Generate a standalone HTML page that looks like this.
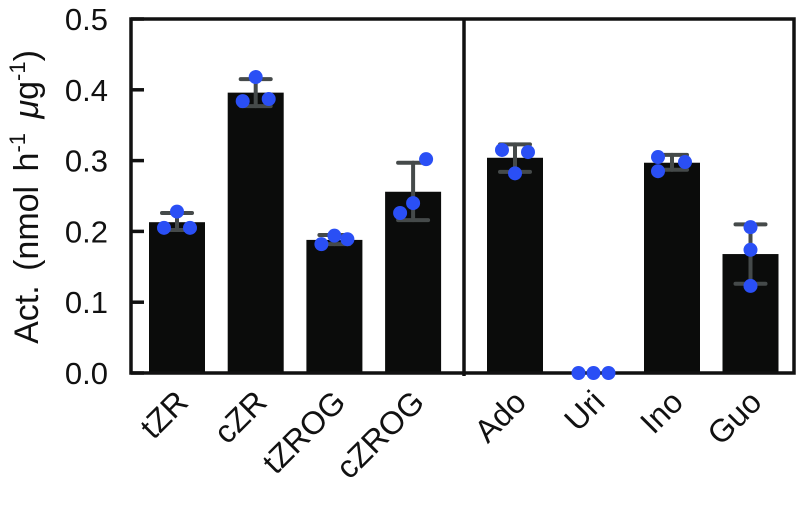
<!DOCTYPE html>
<html><head><meta charset="utf-8"><style>
html,body{margin:0;padding:0;background:#fff;}
svg{display:block;font-family:"Liberation Sans",Arial,sans-serif;}
</style></head><body>
<svg id="chart" width="798" height="510" viewBox="0 0 798 510"></svg>
<script>
const categories = ["tZR","cZR","tZROG","cZROG","Ado","Uri","Ino","Guo"];
const means = [0.213,0.396,0.188,0.256,0.304,0,0.297,0.168];
const errLow = [0.202,0.377,0.182,0.216,0.284,0,0.287,0.126];
const errHigh = [0.226,0.415,0.195,0.297,0.323,0,0.308,0.210];
const rep1 = [0.205,0.384,0.182,0.226,0.315,0,0.305,0.206];
const rep2 = [0.228,0.418,0.194,0.302,0.282,0,0.285,0.174];
const rep3 = [0.205,0.387,0.189,0.240,0.312,0,0.298,0.123];
const yTicks = [0,0.1,0.2,0.3,0.4,0.5];
const yTickLabels = ["0.0","0.1","0.2","0.3","0.4","0.5"];
// jitter offsets (layout only)
const jit = [[-13,0,13],[-13,0,13],[-13,0,13],[-13,13,0],[-13,0,13],[-15,0,15],[-14,-14,13],[0,0,0]];

const svg = document.getElementById('chart');
const NS = 'http://www.w3.org/2000/svg';
const L=131, R=794, T=19, B=373, DIV=464;
const y = v => B - (v/0.5)*(B-T);
const x = i => i<4 ? 177 + 78.7*i : 515 + 78.5*(i-4);
const BW = 56;
function mk(tag, attrs, parent){ const e=document.createElementNS(NS,tag); for(const k in attrs) e.setAttribute(k,attrs[k]); (parent||svg).appendChild(e); return e; }

categories.forEach((c,i)=>{
  const h = B - y(means[i]);
  const r = mk('rect',{x:x(i)-BW/2,y:y(means[i]),width:BW,height:h,fill:'#0b0c0b'});
  
  
});
categories.forEach((c,i)=>{
  if(errHigh[i]===errLow[i]) return;
  const g = mk('g',{stroke:'#454a4a','stroke-width':4,'stroke-linecap':'round'});
  
  
  mk('line',{x1:x(i),x2:x(i),y1:y(errLow[i]),y2:y(errHigh[i])},g);
  mk('line',{x1:x(i)-15,x2:x(i)+15,y1:y(errLow[i]),y2:y(errLow[i])},g);
  mk('line',{x1:x(i)-15,x2:x(i)+15,y1:y(errHigh[i]),y2:y(errHigh[i])},g);
});
const fr = mk('rect',{x:L,y:T,width:R-L,height:B-T,fill:'none',stroke:'#111','stroke-width':3.5});


const dv = mk('line',{x1:DIV,x2:DIV,y1:T,y2:B+3,stroke:'#111','stroke-width':3.5});


[rep1,rep2,rep3].forEach((rep,k)=>{
  categories.forEach((c,i)=>{
    const p = mk('circle',{cx:x(i)+jit[i][k],cy:y(rep[i]),r:7,fill:'#2a4ff5'});
    
    
  });
});
yTicks.forEach((t,i)=>{
  const tk = mk('line',{x1:L,x2:L+13,y1:y(t),y2:y(t),stroke:'#111','stroke-width':3.5});
  
  
  const lb = mk('text',{x:108,y:y(t)+11,'text-anchor':'end','font-size':31,fill:'#111'});
  lb.textContent = yTickLabels[i];
  
  
});
categories.forEach((c,i)=>{
  const ax = x(i)+13, ay = 404;
  const t = mk('text',{x:ax,y:ay,'text-anchor':'end','font-size':32,fill:'#111',transform:`rotate(-45 ${ax} ${ay})`});
  t.textContent = c;
  
  
});
const yt = mk('text',{x:0,y:0,'text-anchor':'middle','font-size':34,fill:'#111','word-spacing':5,transform:'translate(38 197) rotate(-90)'});


yt.innerHTML = 'Act. (nmol h<tspan dy="-13" font-size="22">-1</tspan><tspan dy="13"> </tspan><tspan font-style="italic">μ</tspan>g<tspan dy="-13" font-size="22">-1</tspan><tspan dy="13">)</tspan>';
</script>
</body></html>
